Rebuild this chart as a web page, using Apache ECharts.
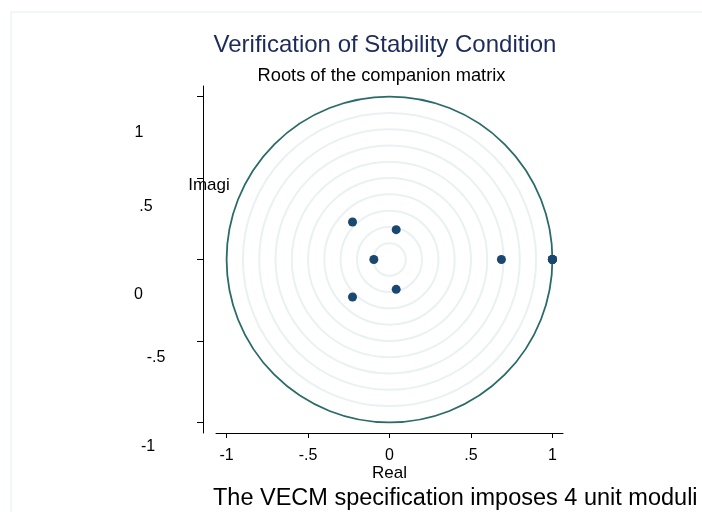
<!DOCTYPE html>
<html>
<head>
<meta charset="utf-8">
<script src="https://cdn.jsdelivr.net/npm/echarts@6/dist/echarts.min.js"></script>
<style>
  html, body { margin: 0; padding: 0; background: #fff; }
  #chart { width: 702px; height: 512px; }
</style>
</head>
<body>
<div id="chart"></div>
<script>
// eigenvalues of the companion matrix (4 sit on the unit circle at 1)
var rootsReal = [1, 1, 1, 1, 0.687, -0.227, -0.227, 0.041, 0.041, -0.096];
var rootsImag = [0, 0, 0, 0, 0, 0.230, -0.230, 0.183, -0.183, 0];

// reference circles
var ringRadii = [0.1, 0.2, 0.3, 0.4, 0.5, 0.6, 0.7, 0.8, 0.9];
var unitRadius = [1];

var tickValues = [-1, -0.5, 0, 0.5, 1];
var tickLabels = ['-1', '-.5', '0', '.5', '1'];

var chart = echarts.init(document.getElementById('chart'));
var font = 'Liberation Sans, Arial, sans-serif';

function circleItem(color, width) {
  return function (params, api) {
    var c = api.coord([0, 0]);
    var r = api.size([api.value(0), 0])[0];
    return {
      type: 'circle',
      shape: { cx: c[0], cy: c[1], r: r },
      style: { fill: null, stroke: color, lineWidth: width }
    };
  };
}

function labelFor(v) {
  return tickLabels[tickValues.indexOf(v)];
}

chart.setOption({
  backgroundColor: '#fff',
  animation: false,
  grid: { left: 216, top: 86, width: 347, height: 347 },
  xAxis: {
    type: 'value', min: -1.065, max: 1.065,
    axisLine: { onZero: false, lineStyle: { color: '#000', width: 1 } },
    axisTick: { customValues: tickValues, length: 5, lineStyle: { color: '#000' } },
    axisLabel: {
      customValues: tickValues, formatter: labelFor, margin: 15,
      color: '#000', fontSize: 16, fontFamily: font
    },
    splitLine: { show: false },
    name: 'Real', nameLocation: 'middle', nameGap: 32, nameMoveOverlap: false,
    nameTextStyle: { color: '#000', fontSize: 17, fontFamily: font }
  },
  yAxis: {
    type: 'value', min: -1.065, max: 1.065, offset: 13,
    axisLine: { show: true, onZero: false, lineStyle: { color: '#000', width: 1 } },
    axisTick: { show: true, customValues: tickValues, length: 6, lineStyle: { color: '#000' } },
    axisLabel: { show: false },
    splitLine: { show: false }
  },
  graphic: [
    { type: 'rect', shape: { x: 11, y: 12, width: 720, height: 520 }, style: { fill: null, stroke: '#e6eef0', lineWidth: 1 }, z: -10 },
    { type: 'text', x: 385, y: 45, style: { text: 'Verification of Stability Condition', fill: '#1c2b5a', fontSize: 24, fontFamily: font, align: 'center', verticalAlign: 'middle' } },
    { type: 'text', x: 381.5, y: 76, style: { text: 'Roots of the companion matrix', fill: '#000', fontSize: 18.3, fontFamily: font, align: 'center', verticalAlign: 'middle' } },
    { type: 'text', x: 209, y: 185, style: { text: 'Imagi', fill: '#000', fontSize: 17, fontFamily: font, align: 'center', verticalAlign: 'middle' } },
    { type: 'text', x: 139, y: 133, style: { text: '1', fill: '#000', fontSize: 16, fontFamily: font, align: 'center', verticalAlign: 'middle' } },
    { type: 'text', x: 146, y: 207, style: { text: '.5', fill: '#000', fontSize: 16, fontFamily: font, align: 'center', verticalAlign: 'middle' } },
    { type: 'text', x: 138.5, y: 295, style: { text: '0', fill: '#000', fontSize: 16, fontFamily: font, align: 'center', verticalAlign: 'middle' } },
    { type: 'text', x: 156, y: 358, style: { text: '-.5', fill: '#000', fontSize: 16, fontFamily: font, align: 'center', verticalAlign: 'middle' } },
    { type: 'text', x: 148, y: 447, style: { text: '-1', fill: '#000', fontSize: 16, fontFamily: font, align: 'center', verticalAlign: 'middle' } },
    { type: 'text', x: 213, y: 499, style: { text: 'The VECM specification imposes 4 unit moduli', fill: '#000', fontSize: 23.5, fontFamily: font, verticalAlign: 'middle' } }
  ],
  series: [
    {
      type: 'custom', renderItem: circleItem('#eaf1f3', 2),
      data: ringRadii.map(function (r) { return [r]; }),
      encode: { x: 0 }, clip: false, silent: true, z: 1
    },
    {
      type: 'custom', renderItem: circleItem('#2a6b68', 1.8),
      data: unitRadius.map(function (r) { return [r]; }),
      encode: { x: 0 }, clip: false, silent: true, z: 2
    },
    {
      type: 'scatter', symbol: 'circle', symbolSize: 9,
      itemStyle: { color: '#1a476f', opacity: 1 },
      data: rootsReal.map(function (x, i) { return [x, rootsImag[i]]; }),
      z: 3
    }
  ]
});
</script>
</body>
</html>
